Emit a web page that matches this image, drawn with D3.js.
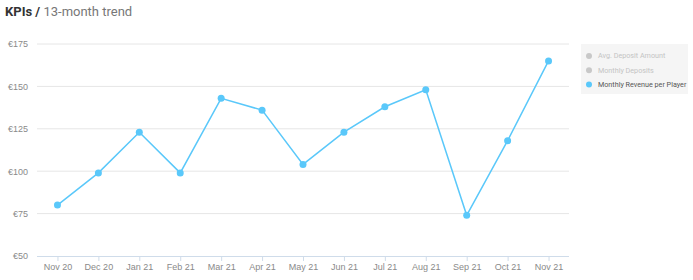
<!DOCTYPE html>
<html>
<head>
<meta charset="utf-8">
<script src="https://cdn.jsdelivr.net/npm/d3@7"></script>
<style>
  body { margin: 0; background: #fff; font-family: Roboto, "Noto Sans", sans-serif; }
  .grid line { stroke: #e6e6e6; }
  .tick text { fill: #8a8a8a; font-size: 9px; }
</style>
</head>
<body>
<svg width="693" height="280"></svg>
<script>
var months = ["Nov 20", "Dec 20", "Jan 21", "Feb 21", "Mar 21", "Apr 21", "May 21",
              "Jun 21", "Jul 21", "Aug 21", "Sep 21", "Oct 21", "Nov 21"];
var revenuePerPlayer = [80, 99, 123, 99, 143, 136, 104, 123, 138, 148, 74, 118, 165];
var yTicks = [50, 75, 100, 125, 150, 175];
var legendNames = ["Avg. Deposit Amount", "Monthly Deposits", "Monthly Revenue per Player"];
var legendActive = [false, false, true];

function main() {
    var svg = d3.select("svg");
    var lineColor = "#5ac8fa";

    var x = d3.scalePoint().domain(months).range([37, 569]).padding(0.5);
    var y = d3.scaleLinear().domain([50, 175]).range([256, 44]);

    // title
    var title = svg.append("text").attr("x", 5).attr("y", 16).style("font-size", "13px");
    title.append("tspan").text("KPIs / ").attr("fill", "#333").style("font-weight", "bold");
    title.append("tspan").text("13-month trend").attr("fill", "#777");

    // horizontal grid
    svg.append("g").attr("class", "grid")
        .selectAll("line")
        .data(yTicks.filter(function(d) { return d > 50; }))
        .enter().append("line")
        .attr("x1", 37).attr("x2", 569)
        .attr("y1", function(d) { return y(d); })
        .attr("y2", function(d) { return y(d); });

    // y axis labels
    var yAxis = svg.append("g")
        .attr("transform", "translate(37,0)")
        .call(d3.axisLeft(y).tickValues(yTicks).tickSize(0).tickPadding(9)
            .tickFormat(function(d) { return "€" + d; }));
    yAxis.select(".domain").remove();

    // x axis
    var xAxis = svg.append("g")
        .attr("transform", "translate(0,256)")
        .call(d3.axisBottom(x).tickSize(5).tickPadding(3).tickSizeOuter(0));
    xAxis.select(".domain").attr("stroke", "#cfdcea").attr("d", "M37,0.5H569");
    xAxis.selectAll(".tick line").attr("stroke", "#cfdcea");

    // line
    var line = d3.line()
        .x(function(d, i) { return x(months[i]); })
        .y(function(d) { return y(d); });

    svg.append("path")
        .datum(revenuePerPlayer)
        .attr("fill", "none")
        .attr("stroke", lineColor)
        .attr("stroke-width", 1.5)
        .attr("d", line);

    svg.selectAll(".dot")
        .data(revenuePerPlayer)
        .enter().append("circle")
        .attr("class", "dot")
        .attr("cx", function(d, i) { return x(months[i]); })
        .attr("cy", function(d) { return y(d); })
        .attr("r", 3.5)
        .attr("fill", lineColor);

    // legend
    var legend = svg.append("g").attr("transform", "translate(581,44)");
    legend.append("rect").attr("width", 107).attr("height", 50).attr("fill", "#f5f5f5");
    var item = legend.selectAll(".item")
        .data(legendNames)
        .enter().append("g")
        .attr("class", "item")
        .attr("transform", function(d, i) { return "translate(0," + (12 + i * 14.3) + ")"; });
    item.append("circle").attr("cx", 8).attr("r", 3)
        .attr("fill", function(d, i) { return legendActive[i] ? lineColor : "#c8c8c8"; });
    item.append("text").attr("x", 17).attr("dy", "0.33em")
        .style("font-size", "7.2px")
        .attr("fill", function(d, i) { return legendActive[i] ? "#555" : "#c4c4c4"; })
        .text(function(d) { return d; });
}
main();
</script>
</body>
</html>
